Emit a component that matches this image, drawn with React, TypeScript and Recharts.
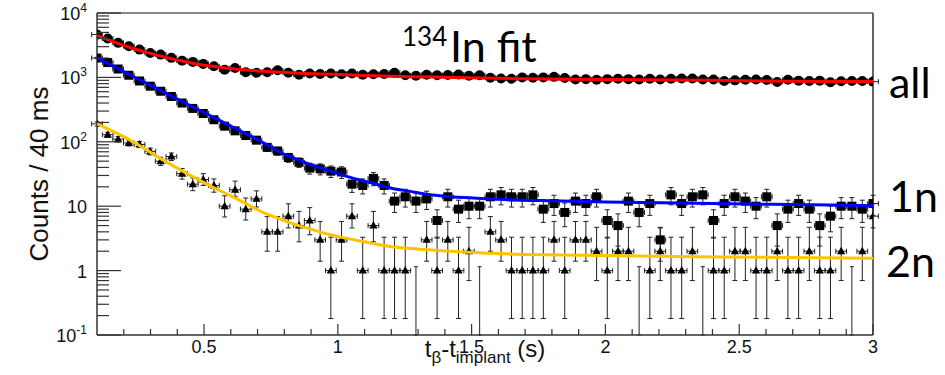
import React from 'react';
import {
  ComposedChart,
  Scatter,
  XAxis,
  YAxis,
  ErrorBar,
  ReferenceLine,
} from 'recharts';

// bin centres (s), ~40 ms bins
const BIN_T = [
  0.100, 0.140, 0.179, 0.219, 0.259, 0.299, 0.338, 0.378, 0.418, 0.458,
  0.497, 0.537, 0.577, 0.616, 0.656, 0.696, 0.736, 0.775, 0.815, 0.855,
  0.895, 0.934, 0.974, 1.014, 1.053, 1.093, 1.133, 1.173, 1.212, 1.252,
  1.292, 1.332, 1.371, 1.411, 1.451, 1.490, 1.530, 1.570, 1.610, 1.649,
  1.689, 1.729, 1.768, 1.808, 1.848, 1.888, 1.927, 1.967, 2.007, 2.047,
  2.086, 2.126, 2.166, 2.205, 2.245, 2.285, 2.325, 2.364, 2.404, 2.444,
  2.484, 2.523, 2.563, 2.603, 2.642, 2.682, 2.722, 2.762, 2.801, 2.841,
  2.881, 2.921, 2.960, 3.000,
];
const BIN_HALF = 0.02;

// "all" (circles)
const ALL_COUNTS = [
  4630, 4010, 3440, 3050, 2700, 2400, 2260, 2010, 1820, 1740,
  1620, 1490, 1320, 1400, 1200, 1180, 1200, 1290, 1180, 1100,
  1150, 1130, 1150, 1120, 1150, 1100, 1120, 1130, 1180, 1080,
  1060, 1100, 1080, 1090, 1110, 1060, 1080, 990, 960, 950,
  1000, 990, 1000, 1020, 980, 930, 940, 920, 940, 950,
  940, 930, 950, 930, 950, 960, 960, 930, 930, 880,
  900, 920, 930, 910, 850, 920, 890, 880, 890, 840,
  870, 880, 880, 860,
];

// "1n" (squares)
const N1_COUNTS = [
  2000, 1700, 1350, 1080, 880, 730, 610, 505, 400, 330,
  275, 220, 175, 148, 125, 106, 82, 72, 57, 48,
  39, 38, 35, 34, 22, 21, 27, 21, 12, 14,
  12, 13, 6, 14, 9, 10, 10, 14, 15, 14,
  14, 15, 9, 11, 8, 12, 11, 14, 6, 5,
  12, 8, 11, 3, 15, 11, 14, 15, 6, 11,
  14, 12, 10, 14, 5, 9, 11, 9, 5, 7,
  10, 10, 9, 11,
];
const N1_ERR = [
  50, 46, 41, 37, 33, 30, 28, 25, 22, 20,
  19, 17, 15, 14, 13, 12, 11, 10, 9, 8,
  7.5, 7.4, 7.1, 7, 5.6, 5.5, 6.2, 5.5, 4, 4.3,
  4, 4.1, 2.8, 4.3, 3.4, 3.6, 3.6, 4.3, 4.5, 4.3,
  4.3, 4.5, 3.4, 3.8, 3.2, 4, 3.8, 4.3, 2.8, 2.6,
  4, 3.2, 3.8, 1.6, 4.5, 3.8, 4.3, 4.5, 2.8, 3.8,
  4.3, 4, 3.6, 4.3, 2.6, 3.4, 3.8, 3.4, 2.6, 3,
  3.6, 3.6, 3.4, 3.8,
];

// "2n" (triangles); 0 = empty bin, drawn as bare upper-limit bar
const N2_COUNTS = [
  190, 129, 110, 96, 91, 71, 50, 59, 32, 22,
  26, 21, 10, 18, 9, 13, 4, 4, 7, 5,
  6, 3, 1, 3, 7, 1, 5, 1, 1, 1,
  0, 3, 1, 3, 1, 2, 0, 4, 3, 1,
  1, 1, 1, 3, 1, 3, 3, 2, 1, 2,
  2, 0, 1, 2, 1, 1, 2, 0, 1, 1,
  2, 2, 1, 1, 2, 1, 1, 2, 1, 1,
  2, 0, 2, 7,
];
const N2_ERR_LO = [
  14, 11, 10.5, 9.8, 9.5, 8.4, 7, 7.7, 5.7, 4.6,
  5, 4.5, 3.2, 3.8, 2.9, 3.3, 2, 2, 2.4, 2.2,
  2.4, 1.6, 0.82, 1.6, 2.4, 0.82, 2.2, 0.82, 0.82, 0.82,
  0, 1.6, 0.82, 1.6, 0.82, 1.3, 0, 2, 1.6, 0.82,
  0.82, 0.82, 0.82, 1.6, 0.82, 1.6, 1.6, 1.3, 0.82, 1.3,
  1.3, 0, 0.82, 1.3, 0.82, 0.82, 1.3, 0, 0.82, 0.82,
  1.3, 1.3, 0.82, 0.82, 1.3, 0.82, 0.82, 1.3, 0.82, 0.82,
  1.3, 0, 1.3, 2.4,
];
const N2_ERR_HI = [
  14, 11, 10.5, 10, 10, 8.8, 7.5, 8, 6.5, 5.5,
  6, 5.5, 4.5, 6.5, 4.4, 4.3, 2.9, 2.9, 3.9, 3.3,
  3.5, 2.8, 2.3, 2.8, 3.9, 2.3, 3.3, 2.3, 2.3, 2.3,
  1.15, 2.8, 2.3, 2.8, 2.3, 2.7, 1.15, 2.9, 2.8, 2.3,
  2.3, 2.3, 2.3, 2.8, 2.3, 2.8, 2.8, 2.7, 2.3, 2.7,
  2.7, 1.15, 2.3, 2.7, 2.3, 2.3, 2.7, 1.15, 2.3, 2.3,
  2.7, 2.7, 2.3, 2.3, 2.7, 2.3, 2.3, 2.7, 2.3, 2.3,
  2.7, 1.15, 2.7, 3.9,
];

// fit curves
const FIT_ALL_T = [0.1, 0.16, 0.22, 0.28, 0.34, 0.4, 0.47, 0.53, 0.59, 0.65, 0.72, 0.8, 0.9, 1.03, 1.2, 1.43, 1.69, 2.01, 2.38, 2.68, 3.0];
const FIT_ALL_V = [4500, 3600, 2940, 2480, 2130, 1860, 1620, 1490, 1390, 1310, 1245, 1190, 1140, 1100, 1040, 1000, 957, 930, 900, 875, 860];
const FIT_1N_T = [0.1, 0.2, 0.3, 0.4, 0.5, 0.6, 0.7, 0.8, 0.85, 0.9, 0.95, 1.0, 1.05, 1.1, 1.15, 1.2, 1.27, 1.34, 1.4, 1.47, 1.6, 1.8, 2.0, 2.33, 2.7, 3.0];
const FIT_1N_V = [2000, 1230, 750, 460, 285, 175, 108, 64, 53, 44, 37.5, 32, 27.8, 24.5, 21.5, 19, 17, 15.2, 14.3, 13.6, 12.8, 12.1, 11.6, 11.1, 10.6, 10.2];
const FIT_2N_T = [0.1, 0.16, 0.22, 0.28, 0.34, 0.4, 0.47, 0.53, 0.6, 0.66, 0.72, 0.78, 0.84, 0.9, 0.95, 1.02, 1.09, 1.15, 1.22, 1.28, 1.34, 1.47, 1.63, 1.84, 2.33, 3.0];
const FIT_2N_V = [190, 145, 108, 77, 54, 39, 27, 20, 14.5, 10.8, 8, 6.4, 5.2, 4.4, 3.8, 3.25, 2.85, 2.55, 2.3, 2.2, 2.1, 1.95, 1.82, 1.75, 1.64, 1.56];

const X_MIN = 0.1;
const X_MAX = 3;
const Y_MIN = 0.1;
const Y_MAX = 10000;

const X_TICKS = [
  0.2, 0.3, 0.4, 0.5, 0.6, 0.7, 0.8, 0.9, 1, 1.1, 1.2, 1.3, 1.4, 1.5, 1.6,
  1.7, 1.8, 1.9, 2, 2.1, 2.2, 2.3, 2.4, 2.5, 2.6, 2.7, 2.8, 2.9, 3,
];
const X_LABELS = [0.5, 1, 1.5, 2, 2.5, 3];
const Y_TICKS = [
  0.1, 0.2, 0.3, 0.4, 0.5, 0.6, 0.7, 0.8, 0.9,
  1, 2, 3, 4, 5, 6, 7, 8, 9,
  10, 20, 30, 40, 50, 60, 70, 80, 90,
  100, 200, 300, 400, 500, 600, 700, 800, 900,
  1000, 2000, 3000, 4000, 5000, 6000, 7000, 8000, 9000,
  10000,
];
const Y_LABELS = [
  { v: 0.1, base: '10', exp: '-1' },
  { v: 1, base: '1', exp: '' },
  { v: 10, base: '10', exp: '' },
  { v: 100, base: '10', exp: '2' },
  { v: 1000, base: '10', exp: '3' },
  { v: 10000, base: '10', exp: '4' },
];

const AXIS = '#333';
const BAR = '#222';
const NUM_FONT = '"Liberation Sans", Arial, sans-serif';
const TXT_FONT = 'Lato, "Open Sans", sans-serif';

const allData = BIN_T.map((t, i) => ({ t, v: ALL_COUNTS[i], xe: BIN_HALF }));
const n1Data = BIN_T.map((t, i) => ({ t, v: N1_COUNTS[i], xe: BIN_HALF, ye: N1_ERR[i] }));
const n2Data = BIN_T.map((t, i) => ({ t, v: N2_COUNTS[i], xe: BIN_HALF, ye: [N2_ERR_LO[i], N2_ERR_HI[i]] }))
  .filter(d => d.v > 0);
// empty bins: only the upper-limit bar, from the axis floor up
const n2Empty = BIN_T.map((t, i) => ({ t, v: Y_MIN, c: N2_COUNTS[i], ye: [0, N2_ERR_HI[i] - Y_MIN] }))
  .filter(d => d.c === 0);

const toFit = (ts: number[], vs: number[]) => ts.map((t, i) => ({ t, v: vs[i] }));
const fitAll = toFit(FIT_ALL_T, FIT_ALL_V);
const fit1n = toFit(FIT_1N_T, FIT_1N_V);
const fit2n = toFit(FIT_2N_T, FIT_2N_V);

const Circle = (p: any) => <circle cx={p.cx} cy={p.cy} r={5} fill="#000" />;
const Square = (p: any) => <rect x={p.cx - 4.5} y={p.cy - 4.5} width={9} height={9} fill="#000" />;
const Triangle = (p: any) => (
  <polygon
    points={`${p.cx},${p.cy - 4.5} ${p.cx - 4.2},${p.cy + 3} ${p.cx + 4.2},${p.cy + 3}`}
    fill="#000"
  />
);
const Nothing = () => <g />;

const XTick = (props: any) => {
  const { x, y, payload } = props;
  const major = X_LABELS.includes(payload.value);
  return (
    <g>
      <line x1={x} x2={x} y1={y} y2={y - (major ? 11 : 6)} stroke={AXIS} strokeWidth={1.2} />
      {major && (
        <text x={x} y={y + 18} textAnchor="middle" fontSize={18} fontFamily={NUM_FONT} fill="#111">
          {payload.value}
        </text>
      )}
    </g>
  );
};

const YTick = (props: any) => {
  const { x, y, payload } = props;
  const lab = Y_LABELS.find(l => l.v === payload.value);
  return (
    <g>
      <line x1={x} x2={x + (lab ? 24 : 12)} y1={y} y2={y} stroke={AXIS} strokeWidth={1.2} />
      {lab && (
        <text x={x - 10} y={y + 7} textAnchor="end" fontSize={18} fontFamily={NUM_FONT} fill="#111">
          {lab.base}
          {lab.exp && (
            <tspan dy={-8} fontSize={12}>{lab.exp}</tspan>
          )}
        </text>
      )}
    </g>
  );
};

// fit curves drawn as scatter lines so they sit above the markers
const fitLine = (color: string) => ({ stroke: color, strokeWidth: 3, fill: 'none' });

export default function App() {
  return (
    <div style={{ position: 'absolute', left: 0, top: 0, width: 945, height: 375, background: '#fff' }}>
      <ComposedChart width={945} height={375} margin={{ top: 13, right: 72, bottom: 0, left: 0 }}>
        <XAxis
          type="number"
          dataKey="t"
          domain={[X_MIN, X_MAX]}
          ticks={X_TICKS}
          interval={0}
          tick={<XTick />}
          tickLine={false}
          tickSize={0}
          tickMargin={0}
          height={40}
          stroke={AXIS}
          strokeWidth={1.5}
          allowDataOverflow
        />
        <YAxis
          type="number"
          dataKey="v"
          scale="log"
          domain={[Y_MIN, Y_MAX]}
          ticks={Y_TICKS}
          interval={0}
          tick={<YTick />}
          tickLine={false}
          tickSize={0}
          tickMargin={0}
          width={97}
          stroke={AXIS}
          strokeWidth={1.5}
          allowDataOverflow
        />
        <ReferenceLine y={Y_MAX} stroke="#111" strokeWidth={1.2} />
        <ReferenceLine x={X_MAX} stroke={AXIS} strokeWidth={1.5} />

        <Scatter data={n2Empty} shape={<Nothing />} isAnimationActive={false}>
          <ErrorBar dataKey="ye" direction="y" width={2} stroke={BAR} strokeWidth={1} />
        </Scatter>
        <Scatter data={n2Data} shape={<Triangle />} isAnimationActive={false}>
          <ErrorBar dataKey="ye" direction="y" width={2.5} stroke={BAR} strokeWidth={1} />
          <ErrorBar dataKey="xe" direction="x" width={2.5} stroke={BAR} strokeWidth={1} />
        </Scatter>
        <Scatter data={n1Data} shape={<Square />} isAnimationActive={false}>
          <ErrorBar dataKey="ye" direction="y" width={2.5} stroke={BAR} strokeWidth={1} />
          <ErrorBar dataKey="xe" direction="x" width={2.5} stroke={BAR} strokeWidth={1} />
        </Scatter>
        <Scatter data={allData} shape={<Circle />} isAnimationActive={false}>
          <ErrorBar dataKey="xe" direction="x" width={2.5} stroke={BAR} strokeWidth={1} />
        </Scatter>

        <Scatter data={fit2n} shape={<Nothing />} line={fitLine('#ffc400')} lineJointType="monotoneX" isAnimationActive={false} />
        <Scatter data={fit1n} shape={<Nothing />} line={fitLine('#0000ff')} lineJointType="monotoneX" isAnimationActive={false} />
        <Scatter data={fitAll} shape={<Nothing />} line={fitLine('#ff0000')} lineJointType="monotoneX" isAnimationActive={false} />
      </ComposedChart>

      <svg width={945} height={375} style={{ position: 'absolute', left: 0, top: 0, pointerEvents: 'none' }}>
        <text
          transform="translate(48,174) rotate(-90)"
          textAnchor="middle"
          fontSize={26}
          fontFamily={NUM_FONT}
          fill="#111"
        >
          Counts / 40 ms
        </text>
        <text x={485} y={357} textAnchor="middle" fontSize={24} fontFamily={NUM_FONT} fill="#111">
          t
          <tspan dy={6} fontSize={17}>β</tspan>
          <tspan dy={-6}>-t</tspan>
          <tspan dy={6} fontSize={17}>implant</tspan>
          <tspan dy={-6}> (s)</tspan>
        </text>

        <text x={402} y={46} fontSize={26} fontFamily={TXT_FONT} fill="#000">134</text>
        <text x={450} y={62} fontSize={43} fontFamily={TXT_FONT} fill="#000">In fit</text>
        <text x={889} y={98} fontSize={43} fontFamily={TXT_FONT} fill="#000">all</text>
        <text x={889} y={212} fontSize={43} fontFamily={TXT_FONT} fill="#000">1n</text>
        <text x={886} y={277} fontSize={43} fontFamily={TXT_FONT} fill="#000">2n</text>
      </svg>
    </div>
  );
}
